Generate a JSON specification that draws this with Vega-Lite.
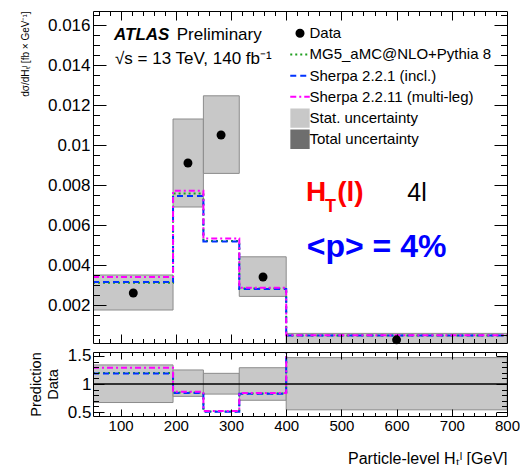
{
  "$schema": "https://vega.github.io/schema/vega-lite/v6.json",
  "background": "white",
  "padding": {"left": 20, "top": 10, "right": 0, "bottom": 0},
  "datasets": {
    "bins": [
      {"lo": 50, "hi": 195, "c": 123, "data": 0.0026, "statLo": 0.00175, "statHi": 0.0035, "rLo": 0.67, "rHi": 1.34},
      {"lo": 195, "hi": 250, "c": 222, "data": 0.0091, "statLo": 0.0069, "statHi": 0.0113, "rLo": 0.78, "rHi": 1.25},
      {"lo": 250, "hi": 315, "c": 282, "data": 0.0105, "statLo": 0.00858, "statHi": 0.01246, "rLo": 0.82, "rHi": 1.19},
      {"lo": 315, "hi": 400, "c": 358, "data": 0.0034, "statLo": 0.00243, "statHi": 0.00441, "rLo": 0.71, "rHi": 1.29},
      {"lo": 400, "hi": 800, "c": 600, "data": 0.00026, "statLo": 0.00005, "statHi": 0.00058, "rLo": 0.54, "rHi": 1.47}
    ],
    "steps": [
      {"series": "MG5_aMC@NLO+Pythia 8", "edge": 50, "v": 0.00311, "r": 1.195},
      {"series": "MG5_aMC@NLO+Pythia 8", "edge": 195, "v": 0.00758, "r": 0.85},
      {"series": "MG5_aMC@NLO+Pythia 8", "edge": 250, "v": 0.0052, "r": 0.51},
      {"series": "MG5_aMC@NLO+Pythia 8", "edge": 315, "v": 0.00282, "r": 0.83},
      {"series": "MG5_aMC@NLO+Pythia 8", "edge": 400, "v": 0.00047, "r": 1.8},
      {"series": "MG5_aMC@NLO+Pythia 8", "edge": 800, "v": 0.00047, "r": 1.8},
      {"series": "Sherpa 2.2.1 (incl.)", "edge": 50, "v": 0.00315, "r": 1.185},
      {"series": "Sherpa 2.2.1 (incl.)", "edge": 195, "v": 0.00745, "r": 0.84},
      {"series": "Sherpa 2.2.1 (incl.)", "edge": 250, "v": 0.00518, "r": 0.505},
      {"series": "Sherpa 2.2.1 (incl.)", "edge": 315, "v": 0.0028, "r": 0.825},
      {"series": "Sherpa 2.2.1 (incl.)", "edge": 400, "v": 0.00047, "r": 1.8},
      {"series": "Sherpa 2.2.1 (incl.)", "edge": 800, "v": 0.00047, "r": 1.8},
      {"series": "Sherpa 2.2.11 (multi-leg)", "edge": 50, "v": 0.0034, "r": 1.29},
      {"series": "Sherpa 2.2.11 (multi-leg)", "edge": 195, "v": 0.00771, "r": 0.86},
      {"series": "Sherpa 2.2.11 (multi-leg)", "edge": 250, "v": 0.00533, "r": 0.52},
      {"series": "Sherpa 2.2.11 (multi-leg)", "edge": 315, "v": 0.00286, "r": 0.84},
      {"series": "Sherpa 2.2.11 (multi-leg)", "edge": 400, "v": 0.00049, "r": 1.8},
      {"series": "Sherpa 2.2.11 (multi-leg)", "edge": 800, "v": 0.00049, "r": 1.8}
    ]
  },
  "config": {
    "font": "Liberation Sans",
    "view": {"stroke": null},
    "axis": {"labelColor": "black", "titleColor": "black", "tickColor": "black", "domainColor": "black", "grid": false, "labelFont": "Liberation Sans", "titleFont": "Liberation Sans", "titleFontWeight": "normal"}
  },
  "spacing": 1,
  "vconcat": [
    {
      "width": 414,
      "height": 332,
      "resolve": {"axis": {"x": "independent", "y": "independent"}},
      "layer": [
        {
          "data": {"name": "bins"},
          "mark": {"type": "rect", "fill": "#c8c8c8", "stroke": "#8c8c8c", "strokeWidth": 1, "clip": true},
          "encoding": {
            "x": {"field": "lo", "type": "quantitative", "scale": {"domain": [50, 800], "nice": false, "zero": false},
              "axis": {"orient": "bottom", "values": [60,80,100,120,140,160,180,200,220,240,260,280,300,320,340,360,380,400,420,440,460,480,500,520,540,560,580,600,620,640,660,680,700,720,740,760,780], "tickSize": {"expr": "datum.value % 100 === 0 ? -9 : -4.5"}, "labels": false, "domain": true, "title": null, "zindex": 1}},
            "x2": {"field": "hi"},
            "y": {"field": "statLo", "type": "quantitative", "scale": {"domain": [0.0001, 0.0167], "nice": false, "zero": false},
              "axis": {"orient": "left", "values": [0.002,0.004,0.006,0.008,0.01,0.012,0.014,0.016], "format": "~g", "ticks": false, "domain": false, "labelFontSize": 17, "labelPadding": 3, "labelOverlap": false,
                "title": "dσ/dHₜˡ [fb × GeV⁻¹]", "titleFontSize": 10, "titleX": -68, "titleY": 0, "titleAlign": "right", "titleBaseline": "middle", "titleAngle": 270}},
            "y2": {"field": "statHi"}
          }
        },
        {
          "data": {"name": "steps"},
          "mark": {"type": "line", "interpolate": "step-after", "strokeWidth": 2, "clip": true},
          "encoding": {
            "x": {"field": "edge", "type": "quantitative", "scale": {"domain": [50, 800], "nice": false, "zero": false},
              "axis": {"orient": "top", "values": [60,80,100,120,140,160,180,200,220,240,260,280,300,320,340,360,380,400,420,440,460,480,500,520,540,560,580,600,620,640,660,680,700,720,740,760,780], "tickSize": {"expr": "datum.value % 100 === 0 ? -9 : -4.5"}, "labels": false, "domain": true, "title": null, "zindex": 1}},
            "y": {"field": "v", "type": "quantitative", "scale": {"domain": [0.0001, 0.0167], "nice": false, "zero": false},
              "axis": {"orient": "left", "values": [0.0005,0.001,0.0015,0.002,0.0025,0.003,0.0035,0.004,0.0045,0.005,0.0055,0.006,0.0065,0.007,0.0075,0.008,0.0085,0.009,0.0095,0.01,0.0105,0.011,0.0115,0.012,0.0125,0.013,0.0135,0.014,0.0145,0.015,0.0155,0.016,0.0165], "tickSize": {"expr": "abs(datum.value*500 - round(datum.value*500)) < 0.000001 ? -13 : -6.5"}, "labels": false, "domain": true, "title": null, "zindex": 1}},
            "color": {"field": "series", "type": "nominal",
              "scale": {"domain": ["Data", "MG5_aMC@NLO+Pythia 8", "Sherpa 2.2.1 (incl.)", "Sherpa 2.2.11 (multi-leg)", "Stat. uncertainty", "Total uncertainty"], "range": ["black", "#1f9e1f", "#0033ff", "#ff00ff", "#c8c8c8", "#6e6e6e"]},
              "legend": {"title": null, "orient": "none", "legendX": 196, "legendY": 12, "padding": 0, "symbolSize": 380, "symbolStrokeWidth": 2, "labelFont": "Liberation Sans", "labelFontSize": 15, "labelColor": "black", "labelOffset": -1.5, "rowPadding": 0.2, "clipHeight": 20.5, "labelLimit": 400,
                "encode": {"symbols": {"update": {
                  "shape": {"signal": "datum.value === 'Data' ? 'circle' : (datum.value === 'Stat. uncertainty' || datum.value === 'Total uncertainty') ? 'square' : 'stroke'"},
                  "size": {"signal": "datum.value === 'Data' ? 50 : (datum.value === 'Stat. uncertainty' || datum.value === 'Total uncertainty') ? 300 : 380"},
                  "fill": {"signal": "datum.value === 'Data' ? 'black' : datum.value === 'Stat. uncertainty' ? '#c8c8c8' : datum.value === 'Total uncertainty' ? '#6e6e6e' : 'transparent'"},
                  "stroke": {"scale": "color", "field": "value"},
                  "strokeDash": {"signal": "datum.value === 'MG5_aMC@NLO+Pythia 8' ? [2,3] : datum.value === 'Sherpa 2.2.1 (incl.)' ? [6,4] : datum.value === 'Sherpa 2.2.11 (multi-leg)' ? [6,3,2,3] : []"},
                  "strokeWidth": {"value": 2},
                  "opacity": {"value": 1}
                }}}}},
            "strokeDash": {"field": "series", "type": "nominal", "scale": {"domain": ["MG5_aMC@NLO+Pythia 8", "Sherpa 2.2.1 (incl.)", "Sherpa 2.2.11 (multi-leg)"], "range": [[2,3],[6,4],[6,3,2,3]]}, "legend": null}
          }
        },
        {
          "data": {"name": "bins"},
          "mark": {"type": "point", "filled": true, "color": "black", "size": 80, "opacity": 1},
          "encoding": {
            "x": {"field": "c", "type": "quantitative", "scale": {"domain": [50, 800], "nice": false, "zero": false}, "axis": null},
            "y": {"field": "data", "type": "quantitative", "scale": {"domain": [0.0001, 0.0167], "nice": false, "zero": false},
              "axis": {"orient": "right", "values": [0.0005,0.001,0.0015,0.002,0.0025,0.003,0.0035,0.004,0.0045,0.005,0.0055,0.006,0.0065,0.007,0.0075,0.008,0.0085,0.009,0.0095,0.01,0.0105,0.011,0.0115,0.012,0.0125,0.013,0.0135,0.014,0.0145,0.015,0.0155,0.016,0.0165], "tickSize": {"expr": "abs(datum.value*500 - round(datum.value*500)) < 0.000001 ? -13 : -6.5"}, "labels": false, "domain": true, "title": null, "zindex": 1}}
          }
        },
        {
          "data": {"values": [{}]},
          "mark": {"type": "text", "text": "ATLAS", "fontSize": 17, "fontWeight": "bold", "fontStyle": "italic", "align": "left", "baseline": "alphabetic", "color": "black"},
          "encoding": {"x": {"datum": 88, "type": "quantitative", "axis": null, "scale": {"domain": [50, 800], "nice": false, "zero": false}}, "y": {"datum": 0.015265, "type": "quantitative", "axis": null, "scale": {"domain": [0.0001, 0.0167], "nice": false, "zero": false}}}
        },
        {
          "data": {"values": [{}]},
          "mark": {"type": "text", "text": "Preliminary", "fontSize": 17, "align": "left", "baseline": "alphabetic", "color": "black"},
          "encoding": {"x": {"datum": 201.6, "type": "quantitative", "axis": null, "scale": {"domain": [50, 800], "nice": false, "zero": false}}, "y": {"datum": 0.015265, "type": "quantitative", "axis": null, "scale": {"domain": [0.0001, 0.0167], "nice": false, "zero": false}}}
        },
        {
          "data": {"values": [{}]},
          "mark": {"type": "text", "text": "√s = 13 TeV, 140 fb⁻¹", "fontSize": 17, "align": "left", "baseline": "alphabetic", "color": "black"},
          "encoding": {"x": {"datum": 89.9, "type": "quantitative", "axis": null, "scale": {"domain": [50, 800], "nice": false, "zero": false}}, "y": {"datum": 0.01405, "type": "quantitative", "axis": null, "scale": {"domain": [0.0001, 0.0167], "nice": false, "zero": false}}}
        },
        {
          "data": {"values": [{}]},
          "mark": {"type": "text", "text": "H", "fontSize": 28, "fontWeight": "bold", "align": "left", "baseline": "alphabetic", "color": "#ff0000"},
          "encoding": {"x": {"datum": 435.9, "type": "quantitative", "axis": null, "scale": {"domain": [50, 800], "nice": false, "zero": false}}, "y": {"datum": 0.007215, "type": "quantitative", "axis": null, "scale": {"domain": [0.0001, 0.0167], "nice": false, "zero": false}}}
        },
        {
          "data": {"values": [{}]},
          "mark": {"type": "text", "text": "T", "fontSize": 18, "fontWeight": "bold", "align": "left", "baseline": "alphabetic", "color": "#ff0000"},
          "encoding": {"x": {"datum": 470.3, "type": "quantitative", "axis": null, "scale": {"domain": [50, 800], "nice": false, "zero": false}}, "y": {"datum": 0.00663, "type": "quantitative", "axis": null, "scale": {"domain": [0.0001, 0.0167], "nice": false, "zero": false}}}
        },
        {
          "data": {"values": [{}]},
          "mark": {"type": "text", "text": "(l)", "fontSize": 28, "fontWeight": "bold", "align": "left", "baseline": "alphabetic", "color": "#ff0000"},
          "encoding": {"x": {"datum": 492.5, "type": "quantitative", "axis": null, "scale": {"domain": [50, 800], "nice": false, "zero": false}}, "y": {"datum": 0.007215, "type": "quantitative", "axis": null, "scale": {"domain": [0.0001, 0.0167], "nice": false, "zero": false}}}
        },
        {
          "data": {"values": [{}]},
          "mark": {"type": "text", "text": "4l", "fontSize": 25, "align": "left", "baseline": "alphabetic", "color": "black"},
          "encoding": {"x": {"datum": 619.3, "type": "quantitative", "axis": null, "scale": {"domain": [50, 800], "nice": false, "zero": false}}, "y": {"datum": 0.007215, "type": "quantitative", "axis": null, "scale": {"domain": [0.0001, 0.0167], "nice": false, "zero": false}}}
        },
        {
          "data": {"values": [{}]},
          "mark": {"type": "text", "text": "<p> = 4%", "fontSize": 32, "fontWeight": "bold", "align": "left", "baseline": "alphabetic", "color": "#0000ff"},
          "encoding": {"x": {"datum": 437.3, "type": "quantitative", "axis": null, "scale": {"domain": [50, 800], "nice": false, "zero": false}}, "y": {"datum": 0.00438, "type": "quantitative", "axis": null, "scale": {"domain": [0.0001, 0.0167], "nice": false, "zero": false}}}
        }
      ]
    },
    {
      "width": 414,
      "height": 64,
      "resolve": {"axis": {"x": "independent", "y": "independent"}},
      "layer": [
        {
          "data": {"name": "bins"},
          "mark": {"type": "rect", "fill": "#c8c8c8", "stroke": "#8c8c8c", "strokeWidth": 1, "clip": true},
          "encoding": {
            "x": {"field": "lo", "type": "quantitative", "scale": {"domain": [50, 800], "nice": false, "zero": false},
              "axis": {"orient": "bottom", "values": [100,200,300,400,500,600,700,800], "format": "d", "ticks": false, "domain": false, "labelFontSize": 15, "labelPadding": 2, "labelFlush": false, "labelOverlap": false,
                "title": "Particle-level Hₜˡ [GeV]", "titleFontSize": 16, "titleX": 414, "titleY": 47, "titleAlign": "right", "titleBaseline": "alphabetic", "titleAnchor": "end"}},
            "x2": {"field": "hi"},
            "y": {"field": "rLo", "type": "quantitative", "scale": {"domain": [0.43, 1.57], "nice": false, "zero": false},
              "axis": {"orient": "left", "values": [0.5, 1, 1.5], "format": "~g", "ticks": false, "domain": false, "labelFontSize": 17, "labelPadding": 2, "labelOverlap": false,
                "title": ["Prediction", "Data"], "titleFontSize": 14.5, "titleLineHeight": 17, "titleX": -57, "titleY": 32, "titleAlign": "center", "titleBaseline": "middle", "titleAngle": 270}},
            "y2": {"field": "rHi"}
          }
        },
        {
          "data": {"name": "steps"},
          "mark": {"type": "line", "interpolate": "step-after", "strokeWidth": 2, "clip": true},
          "encoding": {
            "x": {"field": "edge", "type": "quantitative", "scale": {"domain": [50, 800], "nice": false, "zero": false},
              "axis": {"orient": "bottom", "values": [60,80,100,120,140,160,180,200,220,240,260,280,300,320,340,360,380,400,420,440,460,480,500,520,540,560,580,600,620,640,660,680,700,720,740,760,780], "tickSize": {"expr": "datum.value % 100 === 0 ? -7 : -3.5"}, "labels": false, "domain": true, "title": null, "zindex": 1}},
            "y": {"field": "r", "type": "quantitative", "scale": {"domain": [0.43, 1.57], "nice": false, "zero": false},
              "axis": {"orient": "left", "values": [0.5,0.6,0.7,0.8,0.9,1,1.1,1.2,1.3,1.4,1.5], "tickSize": {"expr": "abs(datum.value*2 - round(datum.value*2)) < 0.000001 ? -11 : -5.5"}, "labels": false, "domain": true, "title": null, "zindex": 1}},
            "color": {"field": "series", "type": "nominal", "legend": null},
            "strokeDash": {"field": "series", "type": "nominal", "legend": null}
          }
        },
        {
          "data": {"values": [{}]},
          "mark": {"type": "rule", "color": "black", "strokeWidth": 1.5},
          "encoding": {
            "x": {"datum": 50, "type": "quantitative", "scale": {"domain": [50, 800], "nice": false, "zero": false},
              "axis": {"orient": "top", "values": [60,80,100,120,140,160,180,200,220,240,260,280,300,320,340,360,380,400,420,440,460,480,500,520,540,560,580,600,620,640,660,680,700,720,740,760,780], "tickSize": {"expr": "datum.value % 100 === 0 ? -7 : -3.5"}, "labels": false, "domain": true, "title": null, "zindex": 1}},
            "x2": {"datum": 800},
            "y": {"datum": 1, "type": "quantitative", "scale": {"domain": [0.43, 1.57], "nice": false, "zero": false},
              "axis": {"orient": "right", "values": [0.5,0.6,0.7,0.8,0.9,1,1.1,1.2,1.3,1.4,1.5], "tickSize": {"expr": "abs(datum.value*2 - round(datum.value*2)) < 0.000001 ? -11 : -5.5"}, "labels": false, "domain": true, "title": null, "zindex": 1}}
          }
        }
      ]
    }
  ]
}
